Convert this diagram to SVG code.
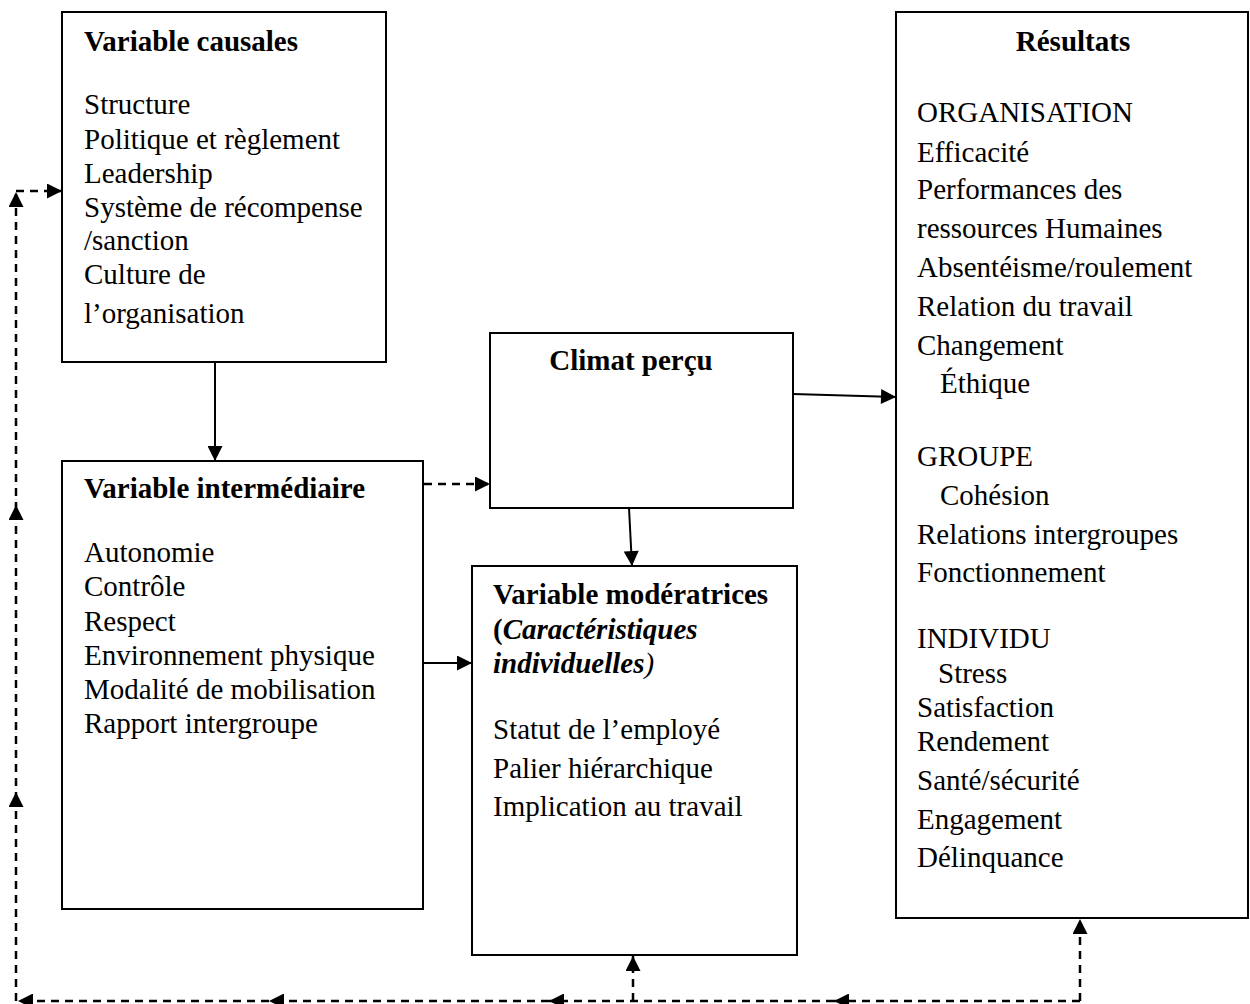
<svg xmlns="http://www.w3.org/2000/svg" width="1250" height="1004" viewBox="0 0 1250 1004">
<style>
.box{fill:#fff;stroke:#000;stroke-width:2}
text{font-family:"Liberation Serif","Times New Roman",serif;font-size:29px;fill:#000}
.b{font-weight:bold}
.bi{font-weight:bold;font-style:italic}
.c{text-anchor:middle}
.s{fill:none;stroke:#000;stroke-width:2}
.d{fill:none;stroke:#000;stroke-width:2.5;stroke-dasharray:8,6}
</style>
<defs>
<marker id="ah" viewBox="0 0 10 10" refX="10" refY="5" markerWidth="20" markerHeight="15" markerUnits="userSpaceOnUse" orient="auto">
<path d="M0,0L10,5L0,10z" fill="#000"/>
</marker>
</defs>
<rect width="1250" height="1004" fill="#fff"/>
<g id="causales">
<rect class="box" x="62" y="12" width="324" height="350"/>
<text x="84" y="51" class="b">Variable causales</text>
<text x="84" y="114">Structure</text>
<text x="84" y="149">Politique et règlement</text>
<text x="84" y="183">Leadership</text>
<text x="84" y="217">Système de récompense</text>
<text x="84" y="250">/sanction</text>
<text x="84" y="284">Culture de</text>
<text x="84" y="323">l’organisation</text>
</g>
<g id="intermediaire">
<rect class="box" x="62" y="461" width="361" height="448"/>
<text x="84" y="498" class="b">Variable intermédiaire</text>
<text x="84" y="562">Autonomie</text>
<text x="84" y="596">Contrôle</text>
<text x="84" y="631">Respect</text>
<text x="84" y="665">Environnement physique</text>
<text x="84" y="699">Modalité de mobilisation</text>
<text x="84" y="733">Rapport intergroupe</text>
</g>
<g id="climat">
<rect class="box" x="490" y="333" width="303" height="175"/>
<text x="631" y="370" class="b c">Climat perçu</text>
</g>
<g id="moderatrices">
<rect class="box" x="472" y="566" width="325" height="389"/>
<text x="493" y="604" class="b">Variable modératrices</text>
<text x="493" y="639"><tspan class="b">(</tspan><tspan class="bi">Caractéristiques</tspan></text>
<text x="493" y="673"><tspan class="bi">individuelles</tspan><tspan font-style="italic">)</tspan></text>
<text x="493" y="739">Statut de l’employé</text>
<text x="493" y="778">Palier hiérarchique</text>
<text x="493" y="816">Implication au travail</text>
</g>
<g id="resultats">
<rect class="box" x="896" y="12" width="352" height="906"/>
<text x="1073" y="51" class="b c">Résultats</text>
<text x="917" y="122">ORGANISATION</text>
<text x="917" y="162">Efficacité</text>
<text x="917" y="199">Performances des</text>
<text x="917" y="238">ressources Humaines</text>
<text x="917" y="277">Absentéisme/roulement</text>
<text x="917" y="316">Relation du travail</text>
<text x="917" y="355">Changement</text>
<text x="940" y="393">Éthique</text>
<text x="917" y="466">GROUPE</text>
<text x="940" y="505">Cohésion</text>
<text x="917" y="544">Relations intergroupes</text>
<text x="917" y="582">Fonctionnement</text>
<text x="917" y="648">INDIVIDU</text>
<text x="938" y="683">Stress</text>
<text x="917" y="717">Satisfaction</text>
<text x="917" y="751">Rendement</text>
<text x="917" y="790">Santé/sécurité</text>
<text x="917" y="829">Engagement</text>
<text x="917" y="867">Délinquance</text>
</g>
<g id="connectors">
<line class="s" x1="215" y1="362" x2="215" y2="461" marker-end="url(#ah)"/>
<line class="d" x1="424" y1="484" x2="490" y2="484" marker-end="url(#ah)"/>
<line class="s" x1="629" y1="508" x2="632" y2="566" marker-end="url(#ah)"/>
<line class="s" x1="793" y1="394" x2="896" y2="397" marker-end="url(#ah)"/>
<line class="s" x1="423" y1="663" x2="472" y2="663" marker-end="url(#ah)"/>
<line class="d" x1="1080" y1="1001" x2="1080" y2="919" marker-end="url(#ah)"/>
<line class="d" x1="633" y1="1001" x2="633" y2="956" marker-end="url(#ah)"/>
<line class="d" x1="1080" y1="1001" x2="834" y2="1001" marker-end="url(#ah)"/>
<line class="d" x1="834" y1="1001" x2="549" y2="1001" marker-end="url(#ah)"/>
<line class="d" x1="549" y1="1001" x2="269" y2="1001" marker-end="url(#ah)"/>
<line class="d" x1="269" y1="1001" x2="18" y2="1001" marker-end="url(#ah)"/>
<line class="d" x1="16" y1="1001" x2="16" y2="792" marker-end="url(#ah)"/>
<line class="d" x1="16" y1="800" x2="16" y2="505" marker-end="url(#ah)"/>
<line class="d" x1="16" y1="510" x2="16" y2="192" marker-end="url(#ah)"/>
<line class="d" x1="16" y1="191" x2="62" y2="191" marker-end="url(#ah)"/>
</g>
</svg>
